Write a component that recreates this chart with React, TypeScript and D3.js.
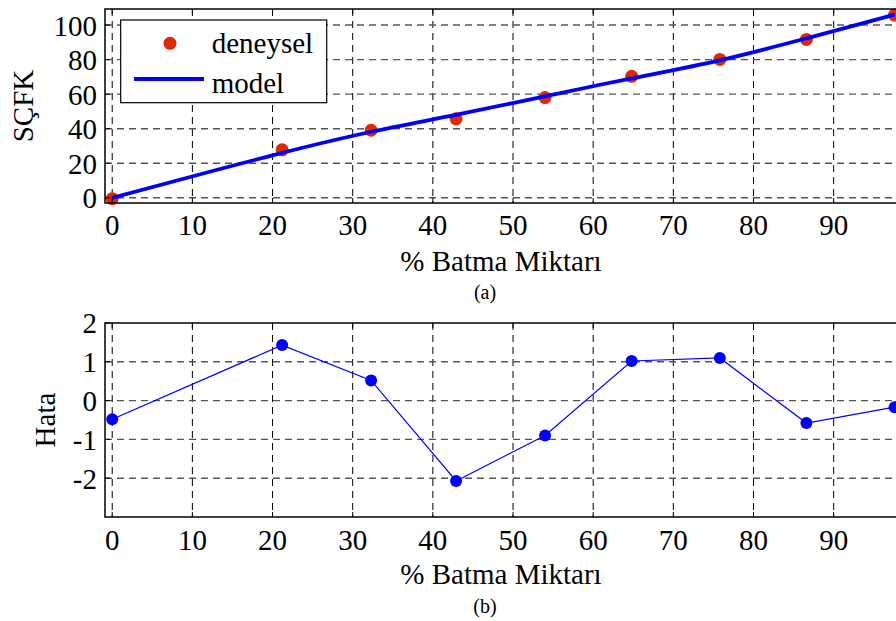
import React from "react";
import * as d3 from "d3";

const batma = [0, 21.2, 32.3, 42.9, 54.0, 64.8, 75.8, 86.6, 97.6];
const deneysel = [-0.5, 27.8, 39.1, 45.7, 58.0, 70.3, 80.1, 91.7, 105.8];
const model = [0.0, 26.4, 38.6, 47.8, 58.9, 69.3, 79.0, 92.3, 106.0];
const hata = [-0.48, 1.43, 0.52, -2.07, -0.9, 1.02, 1.1, -0.58, -0.17];
const xTicks = [0, 10, 20, 30, 40, 50, 60, 70, 80, 90];
const yTicksTop = [0, 20, 40, 60, 80, 100];
const yTicksBottom = [-2, -1, 0, 1, 2];

const FONT = "Liberation Serif, DejaVu Serif, serif";
const FS = 29;

const X0 = 105;
const X1 = 901;

type PanelProps = {
  top: number;
  bottom: number;
  yDomain: [number, number];
  yTicks: number[];
  children: (x: d3.ScaleLinear<number, number>, y: d3.ScaleLinear<number, number>) => React.ReactNode;
  ylabel: string;
  ylabelX: number;
  xlabelY: number;
  tickLabelY: number;
  caption: string;
  captionY: number;
};

const ts = { fontFamily: FONT, fontSize: FS } as React.CSSProperties;

function Panel(p: PanelProps) {
  const x = d3.scaleLinear().domain([-0.9, 98.4]).range([X0, X1]);
  const y = d3.scaleLinear().domain(p.yDomain).range([p.bottom, p.top]);
  const tl = 5;
  return (
    <g>
      {xTicks.map((t) => (
        <line key={"gx" + t} x1={x(t)} x2={x(t)} y1={p.top} y2={p.bottom} stroke="#000" strokeWidth={1} strokeDasharray="7,5" />
      ))}
      {p.yTicks.filter((t) => y(t) > p.top + 1).map((t) => (
        <line key={"gy" + t} x1={X0} x2={X1} y1={y(t)} y2={y(t)} stroke="#555" strokeWidth={1.4} strokeDasharray="7,5" />
      ))}
      {p.children(x, y)}
      {xTicks.map((t) => (
        <g key={"tx" + t}>
          <line x1={x(t)} x2={x(t)} y1={p.bottom} y2={p.bottom - tl} stroke="#000" />
          <line x1={x(t)} x2={x(t)} y1={p.top} y2={p.top + tl} stroke="#000" />
          <text x={x(t)} y={p.tickLabelY} textAnchor="middle" style={ts}>{t}</text>
        </g>
      ))}
      {p.yTicks.map((t) => (
        <g key={"ty" + t}>
          <line x1={X0} x2={X0 + tl} y1={y(t)} y2={y(t)} stroke="#000" />
          <text x={97} y={y(t)} dy="0.36em" textAnchor="end" style={ts}>{t}</text>
        </g>
      ))}
      <rect x={X0} y={p.top} width={X1 - X0} height={p.bottom - p.top} fill="none" stroke="#000" strokeWidth={1.5} />
      <text transform={`translate(${p.ylabelX},${(p.top + p.bottom) / 2}) rotate(-90)`} textAnchor="middle" style={ts}>{p.ylabel}</text>
      <text x={501} y={p.xlabelY} textAnchor="middle" style={ts}>% Batma Miktarı</text>
      <text x={485} y={p.captionY} textAnchor="middle" style={{ fontFamily: FONT, fontSize: 20 }}>{p.caption}</text>
    </g>
  );
}

export default function App() {
  const pts = batma.map((b, i) => ({ b, d: deneysel[i], m: model[i], h: hata[i] }));
  return (
    <svg width={896} height={621} style={{ position: "absolute", left: 0, top: 0, background: "#fff" }}>
      <rect width={896} height={621} fill="#fff" />
      <Panel
        top={9}
        bottom={203}
        yDomain={[-3, 109.3]}
        yTicks={yTicksTop}
        ylabel="SÇFK"
        ylabelX={33}
        xlabelY={271}
        tickLabelY={235}
        caption="(a)"
        captionY={299}
      >
        {(x, y) => {
          const line = d3.line<any>().x((d) => x(d.b)).y((d) => y(d.m)).curve(d3.curveBasis);
          return (
            <g>
              {pts.map((p, i) => (
                <circle key={i} cx={x(p.b)} cy={y(p.d)} r={6.5} fill="#dd2a00" />
              ))}
              <path d={line(pts) || ""} fill="none" stroke="#0000ff" strokeWidth={3.8} />
              <rect x={120.7} y={20} width={206} height={82.7} fill="#fff" stroke="#000" strokeWidth={1.2} />
              <circle cx={170} cy={43.3} r={6.5} fill="#dd2a00" />
              <line x1={134} x2={204} y1={79} y2={79} stroke="#0000ff" strokeWidth={3.8} />
              <text x={211.7} y={53} style={ts}>deneysel</text>
              <text x={211.7} y={93} style={ts}>model</text>
            </g>
          );
        }}
      </Panel>
      <Panel
        top={323}
        bottom={517}
        yDomain={[-3, 2]}
        yTicks={yTicksBottom}
        ylabel="Hata"
        ylabelX={55}
        xlabelY={584}
        tickLabelY={550}
        caption="(b)"
        captionY={613}
      >
        {(x, y) => {
          const line = d3.line<any>().x((d) => x(d.b)).y((d) => y(d.h));
          return (
            <g>
              <path d={line(pts) || ""} fill="none" stroke="#0000ff" strokeWidth={1.2} />
              {pts.map((p, i) => (
                <circle key={i} cx={x(p.b)} cy={y(p.h)} r={6} fill="#0000ff" />
              ))}
            </g>
          );
        }}
      </Panel>
    </svg>
  );
}
